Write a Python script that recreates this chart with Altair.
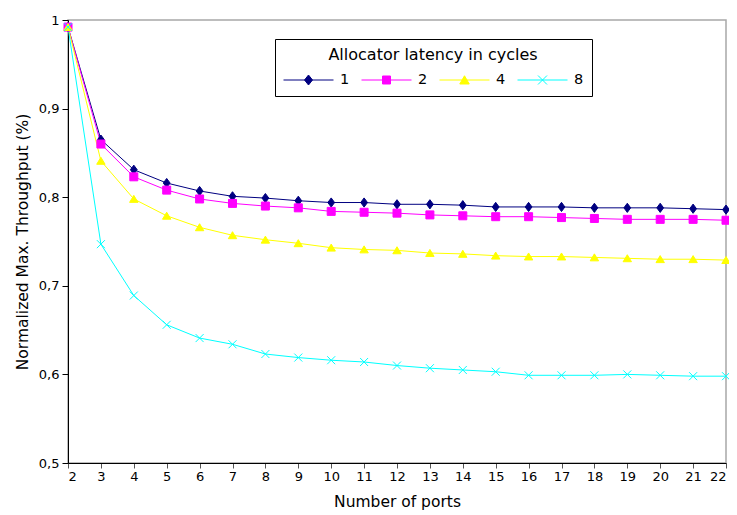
import altair as alt
import pandas as pd

# ---- data ----
ports = list(range(2, 23))
series = ["1", "2", "4", "8"]
lat1 = [0.992, 0.865, 0.831, 0.816, 0.807, 0.801, 0.799, 0.796, 0.794, 0.794, 0.792,
        0.792, 0.791, 0.789, 0.789, 0.789, 0.788, 0.788, 0.788, 0.787, 0.786]
lat2 = [0.992, 0.860, 0.823, 0.808, 0.798, 0.793, 0.790, 0.788, 0.784, 0.783, 0.782,
        0.780, 0.779, 0.778, 0.778, 0.777, 0.776, 0.775, 0.775, 0.775, 0.774]
lat4 = [0.992, 0.841, 0.798, 0.779, 0.766, 0.757, 0.752, 0.748, 0.743, 0.741, 0.740,
        0.737, 0.736, 0.734, 0.733, 0.733, 0.732, 0.731, 0.730, 0.730, 0.729]
lat8 = [0.992, 0.747, 0.689, 0.656, 0.641, 0.634, 0.623, 0.619, 0.616, 0.614, 0.610,
        0.607, 0.605, 0.603, 0.599, 0.599, 0.599, 0.600, 0.599, 0.598, 0.598]
y_ticks = [0.5, 0.6, 0.7, 0.8, 0.9, 1.0]

colors = ["#000080", "#ff00ff", "#ffff00", "#00ffff"]
marker_shapes = ["M0,-1.15L0.85,0L0,1.15L-0.85,0Z", "square", "M0,-0.9L1.05,0.85L-1.05,0.85Z",
                 "M-1,-1L1,1M-1,1L1,-1"]
legend_shapes = [
    "M-1,0L1,0M0,-0.2L0.16,0L0,0.2L-0.16,0Z",
    "M-1,0L1,0M-0.16,-0.16L0.16,-0.16L0.16,0.16L-0.16,0.16Z",
    "M-1,0L1,0M0,-0.17L0.19,0.16L-0.19,0.16Z",
    "M-1,0L1,0M-0.18,-0.18L0.18,0.18M-0.18,0.18L0.18,-0.18",
]

rows = []
for s, vals in zip(series, [lat1, lat2, lat4, lat8]):
    for p, v in zip(ports, vals):
        rows.append({"ports": p, "thr": v, "lat": s})
df = pd.DataFrame(rows)

FONT = "DejaVu Sans"

x_enc = alt.X(
    "ports:Q",
    scale=alt.Scale(domain=[2, 22], nice=False, zero=False),
    axis=alt.Axis(values=ports, format="d", title="Number of ports",
                  tickColor="#555555", titleFontSize=15.5, titlePadding=11,
                  labelPadding=2, tickSize=5),
)
y_enc = alt.Y(
    "thr:Q",
    scale=alt.Scale(domain=[0.5, 1.0], nice=False, zero=False),
    axis=alt.Axis(values=y_ticks,
                  labelExpr="replace(format(datum.value, '.1~f'), '.', ',')",
                  title="Normalized Max. Throughput (%)", tickColor="black",
                  titleFontSize=15.5, titlePadding=8, labelPadding=3, tickSize=6),
)

color_scale = alt.Scale(domain=series, range=colors)

lines = alt.Chart(df).mark_line(strokeWidth=1).encode(
    x=x_enc, y=y_enc,
    color=alt.Color("lat:N", scale=color_scale, legend=None),
)

points = alt.Chart(df).mark_point(filled=True, size=64, strokeWidth=1, opacity=1).encode(
    x=x_enc, y=y_enc,
    fill=alt.Fill("lat:N", scale=color_scale, legend=None),
    stroke=alt.Stroke("lat:N", scale=color_scale, legend=None),
    shape=alt.Shape("lat:N", scale=alt.Scale(domain=series, range=marker_shapes), legend=None),
)

leg_common = dict(
    orient="none", legendX=207, legendY=19, direction="horizontal", columns=4,
    title="Allocator latency in cycles",
)

legend_layer = alt.Chart(df).transform_filter("false").mark_point(
    filled=True, size=2500, strokeWidth=1, opacity=1
).encode(
    fill=alt.Fill("lat:N", scale=color_scale, legend=alt.Legend(**leg_common)),
    stroke=alt.Stroke("lat:N", scale=color_scale, legend=alt.Legend(**leg_common)),
    shape=alt.Shape("lat:N", scale=alt.Scale(domain=series, range=legend_shapes),
                    legend=alt.Legend(**leg_common)),
)

chart = alt.layer(lines, points, legend_layer).resolve_scale(
    fill="independent", stroke="independent", shape="independent"
).properties(
    width=658, height=443,
    autosize=alt.AutoSizeParams(type="none"),
    padding={"left": 60, "top": 12, "right": 3, "bottom": 50},
    background="white",
).configure_view(
    stroke="#a8a8a8", strokeWidth=1.5
).configure_axis(
    grid=False, domainColor="black", domainWidth=1, labelFont=FONT, titleFont=FONT,
    labelFontSize=13, labelColor="black", titleColor="black", titleFontWeight="normal",
).configure_legend(
    titleFont=FONT, titleFontSize=16, titleFontWeight="normal", titleColor="black",
    titleAnchor="middle", titlePadding=9, titleLimit=500,
    labelFont=FONT, labelFontSize=14.5, labelColor="black", labelOffset=6,
    columnPadding=11, symbolSize=2500, symbolStrokeWidth=1, clipHeight=16,
    strokeColor="black", fillColor="white", padding=8, cornerRadius=0,
)

chart.save("out.html", embed_options={"renderer": "svg", "actions": False})
